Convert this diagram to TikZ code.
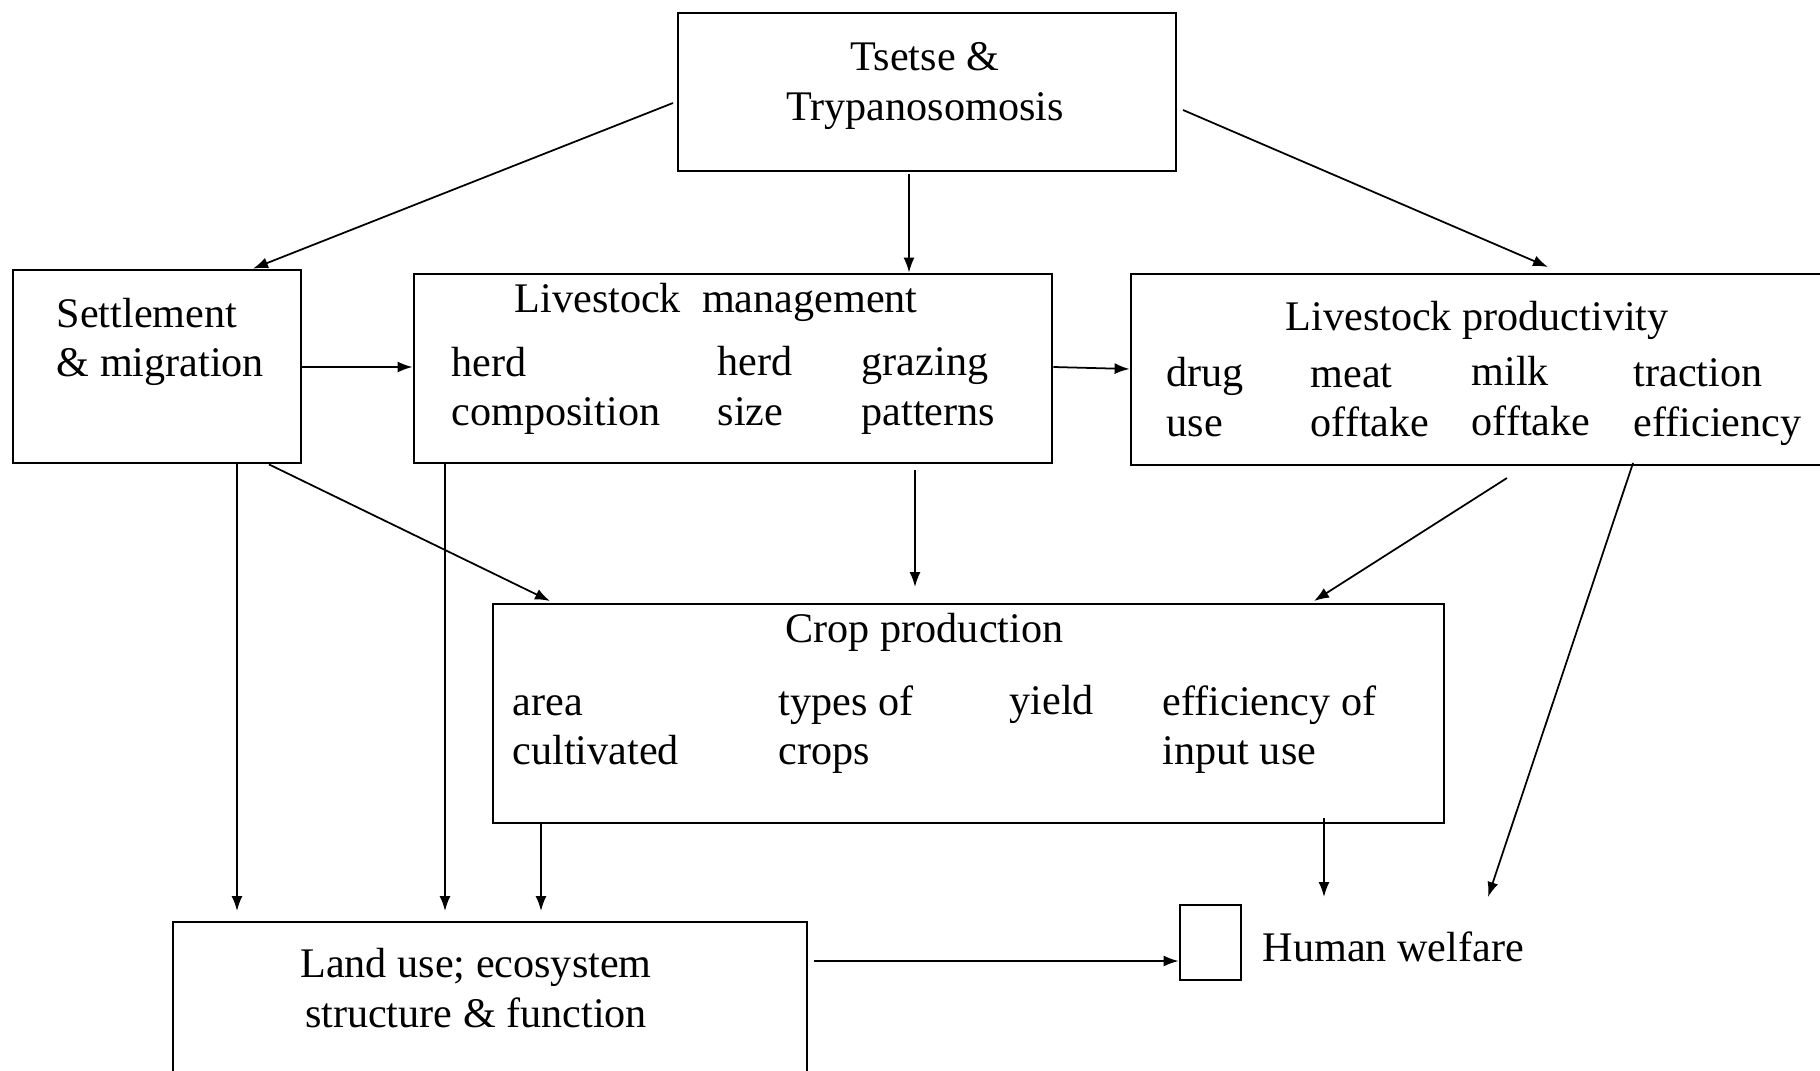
\documentclass[tikz,border=0pt]{standalone}
\usepackage{fontspec}
\setmainfont{Liberation Serif}
\usetikzlibrary{arrows.meta}

\begin{document}
\begin{tikzpicture}[x=0.1mm, y=-0.1mm, >={Latex[length=1.5mm,width=1.1mm]}]
            \tikzstyle{box}=[draw, line width=0.8pt, inner sep=0pt]
            \tikzstyle{txt}=[inner sep=0pt, align=left, font=\fontsize{12}{14}\selectfont]
            \tikzstyle{link}=[->, line width=0.5pt]

            \clip (0,0) rectangle (1820,1070);

            % boxes
            \node[box, minimum width=49.8mm, minimum height=15.8mm] (TS) at (927,92) {};
            \node[box, minimum width=28.8mm, minimum height=19.3mm] (SM) at (157,366.5) {};
            \node[box, minimum width=63.8mm, minimum height=18.9mm] (LM) at (733,368.5) {};
            \node[box, minimum width=70.9mm, minimum height=19.1mm] (LP) at (1485.5,369.5) {};
            \node[box, minimum width=95.1mm, minimum height=21.9mm] (CP) at (968.5,713.5) {};
            \node[box, minimum width=63.4mm, minimum height=17.8mm] (LU) at (490,1011) {};
            \node[box, minimum width=6.1mm, minimum height=7.5mm] (HW) at (1210.5,942.5) {};

            % texts
            \node[txt, align=center] (TStext) at (925,86) {Tsetse \&\\Trypanosomosis};
            \node[txt, anchor=west] (SMtext) at (56,342) {Settlement\\\& migration};
            \node[txt, anchor=west] (LMtitle) at (514,302) {Livestock\ \ management};
            \node[txt, anchor=west] (LMa) at (451,391) {herd\\composition};
            \node[txt, anchor=west] (LMb) at (717,386) {herd\\size};
            \node[txt, anchor=west] (LMc) at (861,391) {grazing\\patterns};
            \node[txt, anchor=west] (LPtitle) at (1285,320) {Livestock productivity};
            \node[txt, anchor=west] (LPa) at (1166,397) {drug\\use};
            \node[txt, anchor=west] (LPb) at (1310,400) {meat\\offtake};
            \node[txt, anchor=west] (LPc) at (1471,396) {milk\\offtake};
            \node[txt, anchor=west] (LPd) at (1633,402) {traction\\efficiency};
            \node[txt, anchor=west] (CPtitle) at (785,632) {Crop production};
            \node[txt, anchor=west] (CPa) at (512,730) {area\\cultivated};
            \node[txt, anchor=west] (CPb) at (778,730) {types of\\crops};
            \node[txt, anchor=west] (CPc) at (1009,704) {yield};
            \node[txt, anchor=west] (CPd) at (1162,730) {efficiency of\\input use};
            \node[txt, align=center] (LUtext) at (476,988) {Land use; ecosystem\\structure \& function};
            \node[txt, anchor=west] (HWtext) at (1262,947) {Human welfare};

            % free ends
            \coordinate (T1) at (673,103);
            \coordinate (T2) at (909,174);
            \coordinate (T3) at (1183,110);
            \coordinate (M1) at (915,470);
            \coordinate (M2) at (915,587);
            \coordinate (P1) at (1507,478);
            \coordinate (P2) at (1633,463);
            \coordinate (C1) at (1324,818);
            \coordinate (W1) at (1324,897);
            \coordinate (W2) at (1488,897);
            \coordinate (U1) at (814,961);

            \path[link] (T1) edge (253,0 |- SM.north) (T2) edge (909,0 |- LM.north) (T3) edge (1548,267);
            \path[link] (SM.east |- 0,367) edge (LM.west |- 0,367) (LM.east |- 0,367) edge (LP.west |- 0,369);
            \path[link] (269,0 |- SM.south) edge (550,601) (M1) edge (M2) (P1) edge (1314,601);
            \path[link] (P2) edge (W2) (C1) edge (W1) (U1) edge (HW.west |- U1);
            \path[link] (237,0 |- SM.south) edge (237,911) (445,0 |- LM.south) edge (445,911) (541,0 |- CP.south) edge (541,911);

        \end{tikzpicture}
\end{document}
